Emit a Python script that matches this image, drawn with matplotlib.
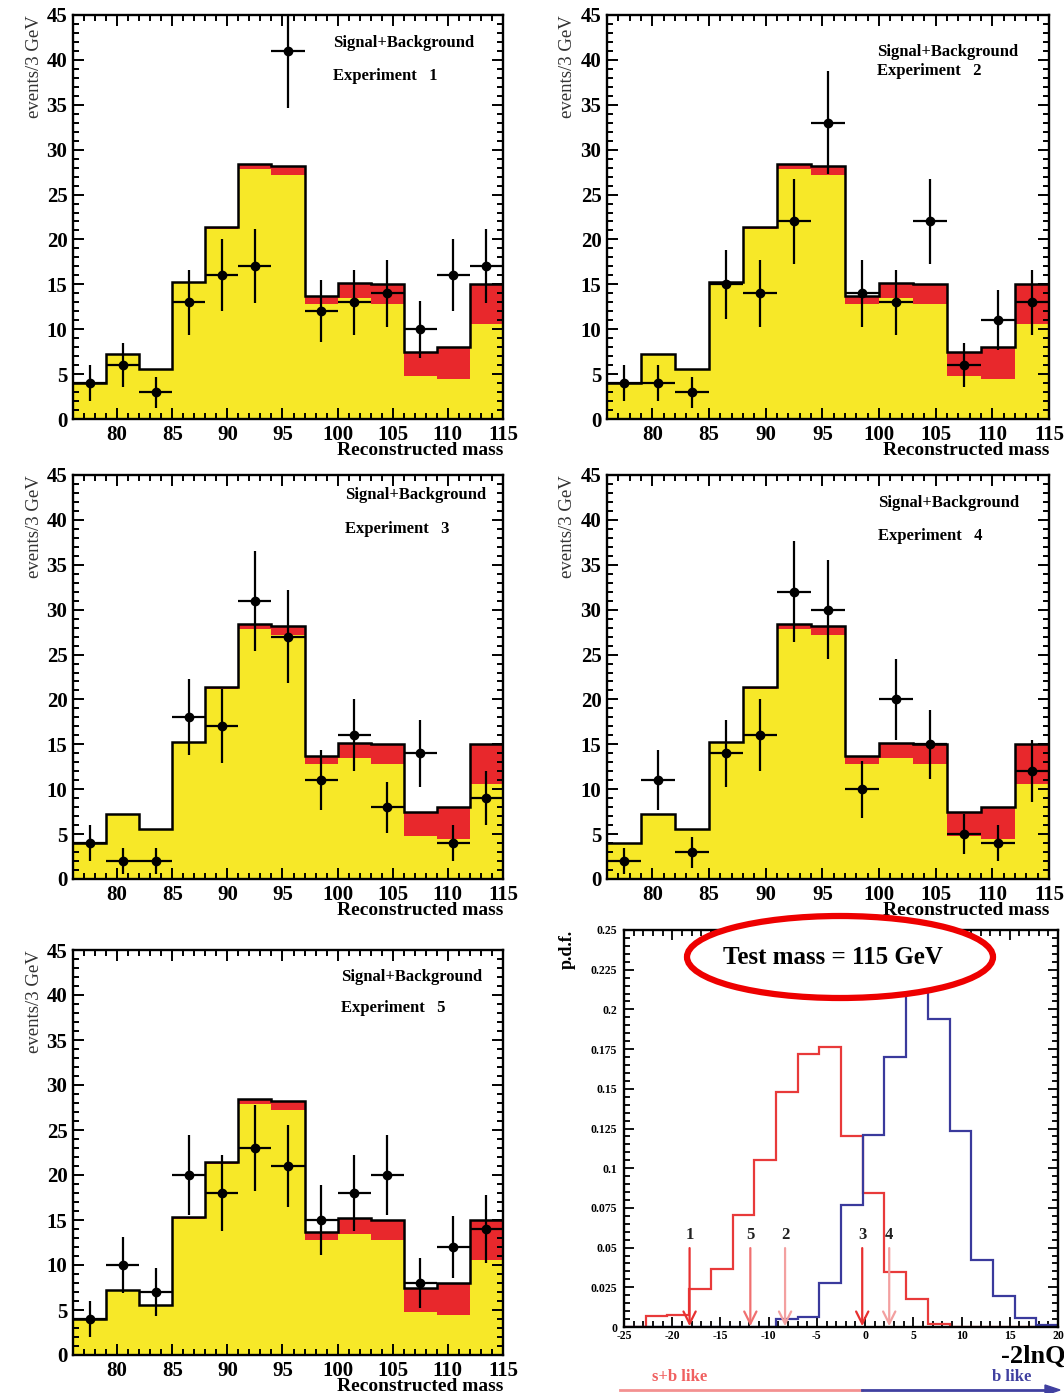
import numpy as np
import matplotlib
matplotlib.use("Agg")
import matplotlib.pyplot as plt
from matplotlib.ticker import MultipleLocator, FuncFormatter
from matplotlib.patches import Ellipse

plt.rcParams['font.family'] = ['Liberation Serif', 'DejaVu Serif']
plt.rcParams['axes.unicode_minus'] = False

# ---------------- data ----------------
mass_edges = [76, 79, 82, 85, 88, 91, 94, 97, 100, 103, 106, 109, 112, 115]
background = [4.0, 7.2, 5.6, 15.1, 21.2, 27.9, 27.2, 12.8, 13.5, 12.8, 4.8, 4.4, 10.6]
sig_plus_bkg = [4.0, 7.2, 5.6, 15.3, 21.4, 28.4, 28.2, 13.7, 15.2, 15.0, 7.5, 8.0, 15.0]

exp1 = [4, 6, 3, 13, 16, 17, 41, 12, 13, 14, 10, 16, 17]
exp2 = [4, 4, 3, 15, 14, 22, 33, 14, 13, 22, 6, 11, 13]
exp3 = [4, 2, 2, 18, 17, 31, 27, 11, 16, 8, 14, 4, 9]
exp4 = [2, 11, 3, 14, 16, 32, 30, 10, 20, 15, 5, 4, 12]
exp5 = [4, 10, 7, 20, 18, 23, 21, 15, 18, 20, 8, 12, 14]
experiments = [exp1, exp2, exp3, exp4, exp5]
exp_labels = ["1", "2", "3", "4", "5"]

q_edges = [-25, -22.75, -20.5, -18.25, -16, -13.75, -11.5, -9.25, -7, -4.75, -2.5,
           -0.25, 2, 4.25, 6.5, 8.75, 11, 13.25, 15.5, 17.75, 20]
pdf_sb = [0.0, 0.0067, 0.0078, 0.0239, 0.0367, 0.0707, 0.1053, 0.148, 0.172, 0.1766,
          0.120, 0.0843, 0.0346, 0.0176, 0.0019, 0.0, 0.0, 0.0, 0.0, 0.0]
pdf_b = [0.0, 0.0, 0.0, 0.0, 0.0, 0.0, 0.0, 0.005, 0.0063, 0.028, 0.077, 0.121, 0.170,
         0.222, 0.194, 0.1235, 0.0424, 0.0193, 0.0057, 0.001]
exp_q = [-18.2, -8.3, -0.3, 2.5, -11.9]   # -2lnQ for experiments 1..5
exp_q_colors = ['#e83030', '#f3a0a0', '#e83030', '#f3a0a0', '#f07070']

# ---------------- styling ----------------
W, H = 1064, 1393
fig = plt.figure(figsize=(W / 100, H / 100), dpi=100)
YELLOW = '#f7e828'
RED = '#e8282c'


def px_axes(left, top, right, bottom):
    return fig.add_axes([left / W, 1 - bottom / H, (right - left) / W, (bottom - top) / H])


panel_boxes = [(73, 15, 503, 419), (607, 15, 1049, 419),
               (73, 475, 503, 879), (607, 475, 1049, 879),
               (73, 950, 503, 1355)]
text_pos = [(99.6, 41.9, 38.2), (99.8, 40.9, 38.8), (100.7, 42.8, 39.0),
            (99.9, 41.9, 38.2), (100.3, 42.0, 38.6)]

edges = np.array(mass_edges, dtype=float)
centers = 0.5 * (edges[:-1] + edges[1:])

for i, box in enumerate(panel_boxes):
    ax = px_axes(*box)
    ax.stairs(background, edges, baseline=0, fill=True, color=YELLOW, zorder=1)
    ax.stairs(sig_plus_bkg, edges, baseline=background, fill=True, color=RED, zorder=1)
    ax.stairs(sig_plus_bkg, edges, baseline=None, color='black', lw=1.8, zorder=2)
    d = np.array(experiments[i], dtype=float)
    ax.errorbar(centers, d, yerr=np.sqrt(d), xerr=1.5, fmt='o', color='black',
                ms=6, elinewidth=1.6, capsize=0, zorder=3, clip_on=True)
    ax.set_xlim(76, 115)
    ax.set_ylim(0, 45)
    ax.xaxis.set_major_locator(MultipleLocator(5))
    ax.xaxis.set_minor_locator(MultipleLocator(1))
    ax.yaxis.set_major_locator(MultipleLocator(5))
    ax.yaxis.set_minor_locator(MultipleLocator(1))
    ax.tick_params(which='both', direction='in', top=True, right=True, width=1.4)
    ax.tick_params(which='major', length=8, labelsize=15, pad=4)
    ax.tick_params(which='minor', length=4)
    for lab in ax.get_xticklabels() + ax.get_yticklabels():
        lab.set_fontweight('bold')
    for s in ax.spines.values():
        s.set_linewidth(1.7)
    ax.text(1.0, -0.078, "Reconstructed mass", transform=ax.transAxes, ha='right',
            va='center', fontsize=14, fontweight='bold')
    ax.text(-0.09, 1.0, "events/3 GeV", transform=ax.transAxes, rotation=90,
            ha='center', va='top', fontsize=13.5, color='#333333')
    tx, ty1, ty2 = text_pos[i]
    ax.text(tx, ty1, "Signal+Background", ha='left', va='center', fontsize=12,
            fontweight='bold')
    ax.text(tx, ty2, "Experiment   " + exp_labels[i], ha='left', va='center',
            fontsize=12, fontweight='bold')

# ---------------- pdf panel ----------------
axq = px_axes(624, 930, 1058, 1327)
qe = np.array(q_edges)
axq.stairs(pdf_sb, qe, baseline=None, color='#e83a3a', lw=1.6, zorder=2)
axq.stairs(pdf_b, qe, baseline=None, color='#3a3a9c', lw=1.6, zorder=2)
axq.set_xlim(-25, 20)
axq.set_ylim(0, 0.25)
axq.xaxis.set_major_locator(MultipleLocator(5))
axq.xaxis.set_minor_locator(MultipleLocator(1))
axq.yaxis.set_major_locator(MultipleLocator(0.025))
axq.yaxis.set_minor_locator(MultipleLocator(0.005))
axq.yaxis.set_major_formatter(FuncFormatter(lambda v, p: "%g" % round(v, 4)))
axq.tick_params(which='both', direction='in', top=True, right=True, width=1.3)
axq.tick_params(which='major', length=7, labelsize=8.5, pad=2)
axq.tick_params(which='minor', length=4)
axq.tick_params(axis='y', which='major', pad=5)
for lab in axq.get_xticklabels() + axq.get_yticklabels():
    lab.set_fontweight('bold')
for s in axq.spines.values():
    s.set_linewidth(1.7)

for k, (q, c) in enumerate(zip(exp_q, exp_q_colors)):
    axq.annotate('', xy=(q, 0.0005), xytext=(q, 0.0497),
                 arrowprops=dict(arrowstyle='->', color=c, lw=1.6,
                                 mutation_scale=22, shrinkA=0, shrinkB=0), zorder=3)
    axq.text(q, 0.058, exp_labels[k], ha='center', va='center', fontsize=12,
             fontweight='bold', color='#222222')

axq.text(-0.131, 1.0, "p.d.f.", transform=axq.transAxes, rotation=90, ha='center',
         va='top', fontsize=13, fontweight='bold')

fig.text(1066 / W, 1 - 1356 / H, "-2lnQ", ha='right', va='center', fontsize=19,
         fontweight='bold')
fig.text(652 / W, 1 - 1377 / H, "s+b like", ha='left', va='center', fontsize=12,
         fontweight='bold', color='#f06060')
fig.text(1031 / W, 1 - 1377 / H, "b like", ha='right', va='center', fontsize=12,
         fontweight='bold', color='#4040a0')
fig.add_artist(plt.Line2D([620 / W, 862 / W], [1 - 1390 / H, 1 - 1390 / H],
                          color='#f39090', lw=2.0, transform=fig.transFigure))
fig.add_artist(plt.Line2D([862 / W, 1050 / W], [1 - 1390 / H, 1 - 1390 / H],
                          color='#4040a0', lw=2.0, transform=fig.transFigure))
fig.add_artist(plt.Polygon([[1060 / W, 1 - 1390 / H], [1045 / W, 1 - 1385 / H],
                            [1045 / W, 1 - 1395 / H]], closed=True,
                           color='#4040a0', transform=fig.transFigure))

ell = Ellipse((840 / W, 1 - 957 / H), 306 / W, 82 / H, transform=fig.transFigure,
              facecolor='white', edgecolor='#ee0000', lw=4.5, zorder=10)
fig.add_artist(ell)
fig.text(833 / W, 1 - 957 / H, "Test mass = 115 GeV", ha='center', va='center',
         fontsize=18, fontweight='bold', zorder=11)

fig.savefig("out.png", dpi=100)
